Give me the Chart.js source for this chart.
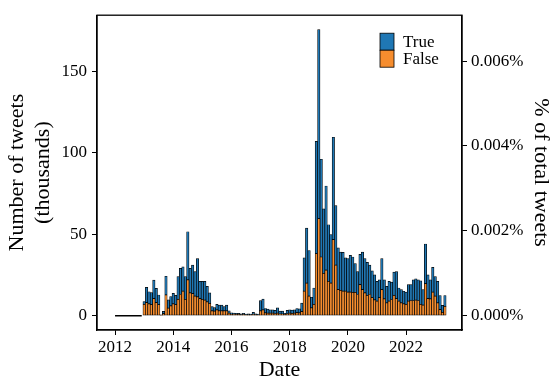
<!DOCTYPE html>
<html>
<head>
<meta charset="utf-8">
<script src="https://cdn.jsdelivr.net/npm/chart.js@4.4.1/dist/chart.umd.min.js"></script>
<style>
  html, body { margin: 0; padding: 0; background: #fff; }
</style>
</head>
<body>
<canvas id="tweets-chart" width="553" height="381"></canvas>
<script>
// ============================================================
// Monthly tweets (thousands), stacked True / False
// ============================================================

var startYear = 2012;

// one value per month, 2012-01 .. 2023-05
var falseCounts = [
  0, 0, 0, 0, 0, 0, 0, 0, 0, 0, 0, 0,
  7, 8, 7.3, 6.7, 10.5, 8, 6.7, 0.3, 1.2, 12.7, 4.6, 6,
  7.3, 6.7, 10, 13, 15, 10, 22, 14, 13.5, 12, 11.5, 10.5,
  10, 9.5, 8.5, 7.5, 3, 2.8, 3.5, 3, 3, 3, 3, 1.5,
  0.8, 0.7, 0.6, 0.6, 0.5, 0.6, 0.4, 0.5, 0.4, 0.8, 0.5, 0.4,
  3, 3.5, 1.7, 1.5, 1.5, 1.5, 1.3, 1.5, 1, 1, 0.6, 1.3,
  1.5, 1.4, 1.5, 1.8, 1.7, 2.5, 15, 20, 12, 4.8, 6.9, 38,
  59.5, 36, 26, 28, 21, 20, 46.7, 31, 16, 15.5, 15, 15,
  14.5, 14.5, 14.3, 14.3, 13, 19, 16, 14, 12.5, 13, 11, 9.7,
  8.9, 11, 16, 10.3, 7.9, 8.9, 9.9, 12.5, 10.5, 8.9, 7.9, 7.3,
  6.9, 8.9, 9.3, 9.3, 9.5, 9.3, 6.9, 6.5, 19.6, 10.5, 10.3, 14.5,
  12, 7.9, 3.7, 2, 5.7
];

var trueCounts = [
  0, 0, 0, 0, 0, 0, 0, 0, 0, 0, 0, 0,
  1.7, 9.4, 7.4, 7.4, 11.3, 8.8, 6.0, 0.2, 1.4, 11.5, 5.1, 5.7,
  6.4, 5.8, 14, 16, 15, 14, 29.5, 15, 17.5, 15, 23.5, 10.5,
  11, 11.5, 9.5, 6.5, 2.5, 2.2, 3.5, 3.5, 3.5, 2.5, 3.5, 1.5,
  1.0, 0.9, 0.9, 0.8, 0.7, 0.9, 0.6, 0.7, 0.6, 1.2, 0.7, 0.6,
  6.3, 6.6, 2.7, 2.5, 2.1, 2.1, 1.9, 3.3, 1.8, 1.8, 0.9, 1.9,
  2.1, 2.0, 2.1, 2.6, 2.5, 5.2, 20.5, 33.7, 28, 6.5, 10.1, 69,
  116.1, 60, 39.5, 51.6, 34.8, 29.7, 62.8, 36.5, 25.6, 23.5, 23.8, 20.5,
  20.5, 22.5, 21.7, 17.7, 14, 18.6, 23, 21, 20.2, 18, 16.5, 15.3,
  12.1, 11, 19, 11.7, 10.1, 12.1, 10.7, 14.2, 16.5, 8.1, 8.1, 7.7,
  7.6, 10.1, 9.7, 12.7, 13.1, 12.7, 14.5, 9.5, 24.4, 14.5, 11.7, 15.2,
  12, 13.1, 8.7, 4.3, 6.7
];

var yearTicks  = [2012, 2014, 2016, 2018, 2020, 2022];
var countTicks = [0, 50, 100, 150];
var pctTicks   = [0, 0.002, 0.004, 0.006];

// month centres as decimal years
var months = falseCounts.map(function(_, i) { return startYear + i / 12; });
// months with no tweets at all get drawn as a flat black run
var emptyRun = falseCounts.map(function(f, i) { return f + trueCounts[i] === 0 ? 0 : null; });

var BLUE = '#1f77b4';
var ORANGE = '#f68d2e';
var SERIF = '"Liberation Serif", "Times New Roman", serif';

Chart.defaults.font.family = SERIF;
Chart.defaults.color = '#000';

// full frame + legend inside the top right corner
var frameLegend = {
  id: 'frameLegend',
  afterDraw: function(chart) {
    var ctx = chart.ctx, a = chart.chartArea;
    ctx.save();
    ctx.strokeStyle = '#000';
    ctx.lineWidth = 1.3;
    ctx.strokeRect(a.left, a.top, a.right - a.left, a.bottom - a.top);

    var items = [chart.data.datasets[1], chart.data.datasets[0]];
    var x = a.right - 82, y = a.top + 18, w = 14, h = 17;
    items.forEach(function(ds, i) {
      ctx.fillStyle = ds.backgroundColor;
      ctx.fillRect(x, y + i * h, w, h);
      ctx.lineWidth = 0.8;
      ctx.strokeRect(x, y + i * h, w, h);
      ctx.fillStyle = '#000';
      ctx.font = '17px ' + SERIF;
      ctx.textBaseline = 'middle';
      ctx.textAlign = 'left';
      ctx.fillText(ds.label, x + 23, y + i * h + h / 2 + 0.5);
    });
    ctx.restore();
  }
};

function axisGrid() {
  return { display: true, drawOnChartArea: false, drawTicks: true, tickLength: 5, tickColor: '#000', tickWidth: 1, offset: false };
}
function axisBorder() {
  return { display: true, color: '#000', width: 1.3 };
}

var ctx = document.getElementById('tweets-chart').getContext('2d');
new Chart(ctx, {
  type: 'bar',
  data: {
    labels: months,
    datasets: [
      { label: 'False', data: falseCounts, backgroundColor: ORANGE, borderColor: '#000', borderWidth: 0.7,
        borderSkipped: false, stack: 'tweets', barPercentage: 1, categoryPercentage: 1, yAxisID: 'y' },
      { label: 'True', data: trueCounts, backgroundColor: BLUE, borderColor: '#000', borderWidth: 0.7,
        borderSkipped: false, stack: 'tweets', barPercentage: 1, categoryPercentage: 1, yAxisID: 'y' },
      { type: 'line', label: 'empty', data: emptyRun, borderColor: '#000', borderWidth: 1.5,
        pointRadius: 0, stack: 'empty', spanGaps: false, fill: false, yAxisID: 'y' }
    ]
  },
  options: {
    responsive: false,
    animation: false,
    layout: { padding: { top: 10, left: 0, right: 0, bottom: 0 } },
    plugins: { legend: { display: false }, tooltip: { enabled: false } },
    scales: {
      x: {
        type: 'linear', position: 'bottom', stacked: true, offset: false,
        min: 2011.38, max: 2023.92,
        grid: axisGrid(), border: axisBorder(),
        afterBuildTicks: function(s) { s.ticks = yearTicks.map(function(v) { return { value: v }; }); },
        afterFit: function(s) { s.height = 51; },
        ticks: { font: { size: 17 }, padding: 2, maxRotation: 0, autoSkip: false,
                 callback: function(v) { return String(v); } },
        title: { display: true, text: 'Date', font: { size: 22, lineHeight: 1.0 }, padding: 0 }
      },
      y: {
        type: 'linear', position: 'left', stacked: true,
        min: -8.8, max: 184.4,
        grid: axisGrid(), border: axisBorder(),
        afterBuildTicks: function(s) { s.ticks = countTicks.map(function(v) { return { value: v }; }); },
        afterFit: function(s) { s.width = 97; },
        ticks: { font: { size: 17 }, padding: 5, callback: function(v) { return String(v); } },
        title: { display: true, text: ['Number of tweets', '(thousands)'],
                 font: { size: 22, lineHeight: 1.15 }, padding: { top: 5, bottom: 0 } }
      },
      y2: {
        type: 'linear', position: 'right',
        min: -0.000338, max: 0.00708,
        grid: axisGrid(), border: axisBorder(),
        afterBuildTicks: function(s) { s.ticks = pctTicks.map(function(v) { return { value: v }; }); },
        afterFit: function(s) { s.width = 91; },
        ticks: { font: { size: 17 }, padding: 4, callback: function(v) { return v.toFixed(3) + '%'; } },
        title: { display: true, text: '% of total tweets', font: { size: 22, lineHeight: 1.15 }, padding: { top: 0, bottom: 0 } }
      }
    }
  },
  plugins: [frameLegend]
});
</script>
</body>
</html>
